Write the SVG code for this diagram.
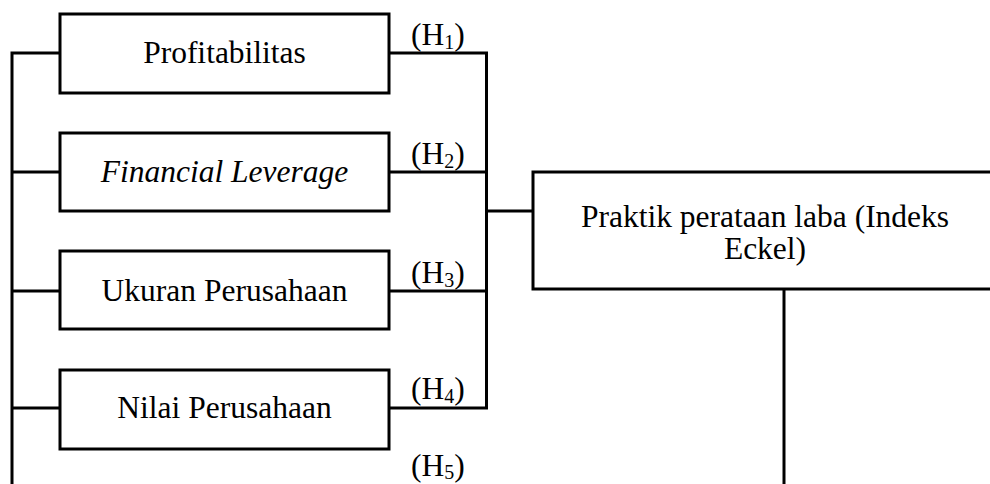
<svg xmlns="http://www.w3.org/2000/svg" width="990" height="484" viewBox="0 0 990 484" font-family="'Liberation Serif', 'Times New Roman', 'DejaVu Serif', serif">
<style>
.box{fill:#fff;stroke:#000;stroke-width:3}
.ln{fill:none;stroke:#000;stroke-width:3}
text{font-family:'Liberation Serif','Times New Roman','DejaVu Serif',serif;font-size:31.5px;fill:#000}
.c{text-anchor:middle}
.sub{font-size:20px}
</style>
<g id="connectors">
<path class="ln" d="M12,484 V53 H60 M12,172 H60 M12,291 H60 M12,408 H60"/>
<path class="ln" d="M389,53 H486.5 V408 H389 M389,172 H486.5 M389,291 H486.5 M486.5,211 H533"/>
<path class="ln" d="M784,289 V484"/>
<text x="411" y="45">(H<tspan class="sub" dy="4">1</tspan><tspan dy="-4">)</tspan></text>
<text x="411" y="164">(H<tspan class="sub" dy="4">2</tspan><tspan dy="-4">)</tspan></text>
<text x="411" y="283">(H<tspan class="sub" dy="4">3</tspan><tspan dy="-4">)</tspan></text>
<text x="411" y="399">(H<tspan class="sub" dy="4">4</tspan><tspan dy="-4">)</tspan></text>
<text x="411" y="476">(H<tspan class="sub" dy="3">5</tspan><tspan dy="-3">)</tspan></text>
</g>
<g id="profitabilitas">
<rect class="box" x="60" y="14" width="329" height="79"/>
<text class="c" x="224.5" y="63">Profitabilitas</text>
</g>
<g id="financial-leverage">
<rect class="box" x="60" y="133" width="329" height="78"/>
<text class="c" x="224.5" y="182" font-style="italic">Financial Leverage</text>
</g>
<g id="ukuran-perusahaan">
<rect class="box" x="60" y="251" width="329" height="78"/>
<text class="c" x="224.5" y="301">Ukuran Perusahaan</text>
</g>
<g id="nilai-perusahaan">
<rect class="box" x="60" y="370" width="329" height="79"/>
<text class="c" x="224.5" y="418">Nilai Perusahaan</text>
</g>
<g id="praktik-perataan-laba">
<rect class="box" x="533" y="172" width="470" height="117"/>
<text class="c" x="765" y="227">Praktik perataan laba (Indeks</text>
<text class="c" x="765" y="259">Eckel)</text>
</g>
</svg>
